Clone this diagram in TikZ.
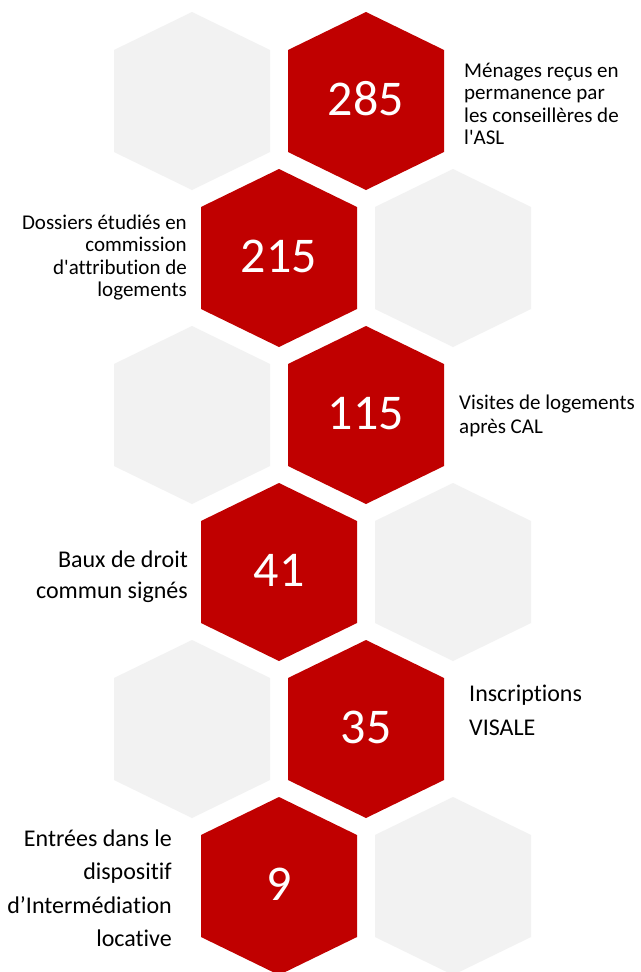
\documentclass[tikz,border=0pt]{standalone}
\usepackage{fontspec}
\setmainfont{Carlito}[Ligatures={NoCommon}]
\newfontfamily\carl{Carlito}[Ligatures={NoCommon,NoRequired}]
\definecolor{hexred}{HTML}{C00000}
\definecolor{hexgray}{HTML}{F2F2F2}
\tikzset{
  x=1pt,y=-1pt,
  hexa/.pic={\path[pic actions] (0,-89) -- (78,-51) -- (78,51) -- (0,89) -- (-78,51) -- (-78,-51) -- cycle;},
  redhex/.style={fill=hexred},
  grayhex/.style={fill=hexgray},
  num/.style={inner sep=0pt,anchor=base,text=white,font=\carl\fontsize{50}{60}\selectfont},
  lbl/.style={inner sep=0pt,font=\carl\fontsize{21}{25}\selectfont},
  lblb/.style={inner sep=0pt,font=\carl\fontsize{24}{29}\selectfont},
}
\begin{document}
\begin{tikzpicture}
\useasboundingbox (0,0) rectangle (640,972);
\fill[white] (0,0) rectangle (640,972);
% row 0
\pic[grayhex] at (192,101) {hexa};
\pic[redhex] at (366,101) {hexa};
\node[num] (n285) at (366,115) {285};
\node[lbl,anchor=base west] (t0a) at (464,77) {Ménages reçus en};
\node[lbl,anchor=base west] (t0b) at (464,99.5) {permanence par};
\node[lbl,anchor=base west] (t0c) at (464,122) {les conseillères de};
\node[lbl,anchor=base west] (t0d) at (464,144.5) {l'ASL};
% row 1
\pic[redhex] at (279,258) {hexa};
\pic[grayhex] at (453,258) {hexa};
\node[num] (n215) at (279,272) {215};
\node[lbl,anchor=base east] (t1a) at (187,229) {Dossiers étudiés en};
\node[lbl,anchor=base east] (t1b) at (187,251.5) {commission};
\node[lbl,anchor=base east] (t1c) at (187,274) {d'attribution de};
\node[lbl,anchor=base east] (t1d) at (187,296.5) {logements};
% row 2
\pic[grayhex] at (192,415) {hexa};
\pic[redhex] at (366,415) {hexa};
\node[num] (n115) at (366,429) {115};
\node[lbl,anchor=base west] (t2a) at (459,409) {Visites de logements};
\node[lbl,anchor=base west] (t2b) at (459,433) {après CAL};
% row 3
\pic[redhex] at (279,572) {hexa};
\pic[grayhex] at (453,572) {hexa};
\node[num] (n41) at (279,586) {41};
\node[lblb,anchor=base east] (t3a) at (188,567) {Baux de droit};
\node[lblb,anchor=base east] (t3b) at (188,598) {commun signés};
% row 4
\pic[grayhex] at (192,729) {hexa};
\pic[redhex] at (366,729) {hexa};
\node[num] (n35) at (366,743) {35};
\node[lblb,anchor=base west] (t4a) at (469,701) {Inscriptions};
\node[lblb,anchor=base west] (t4b) at (469,735) {VISALE};
% row 5
\pic[redhex] at (279,886) {hexa};
\pic[grayhex] at (453,886) {hexa};
\node[num] (n9) at (279,900) {9};
\node[lblb,anchor=base east] (t5a) at (172,846) {Entrées dans le};
\node[lblb,anchor=base east] (t5b) at (172,879.5) {dispositif};
\node[lblb,anchor=base east] (t5c) at (172,913) {d’Intermédiation};
\node[lblb,anchor=base east] (t5d) at (172,946.5) {locative};
\end{tikzpicture}
\end{document}
